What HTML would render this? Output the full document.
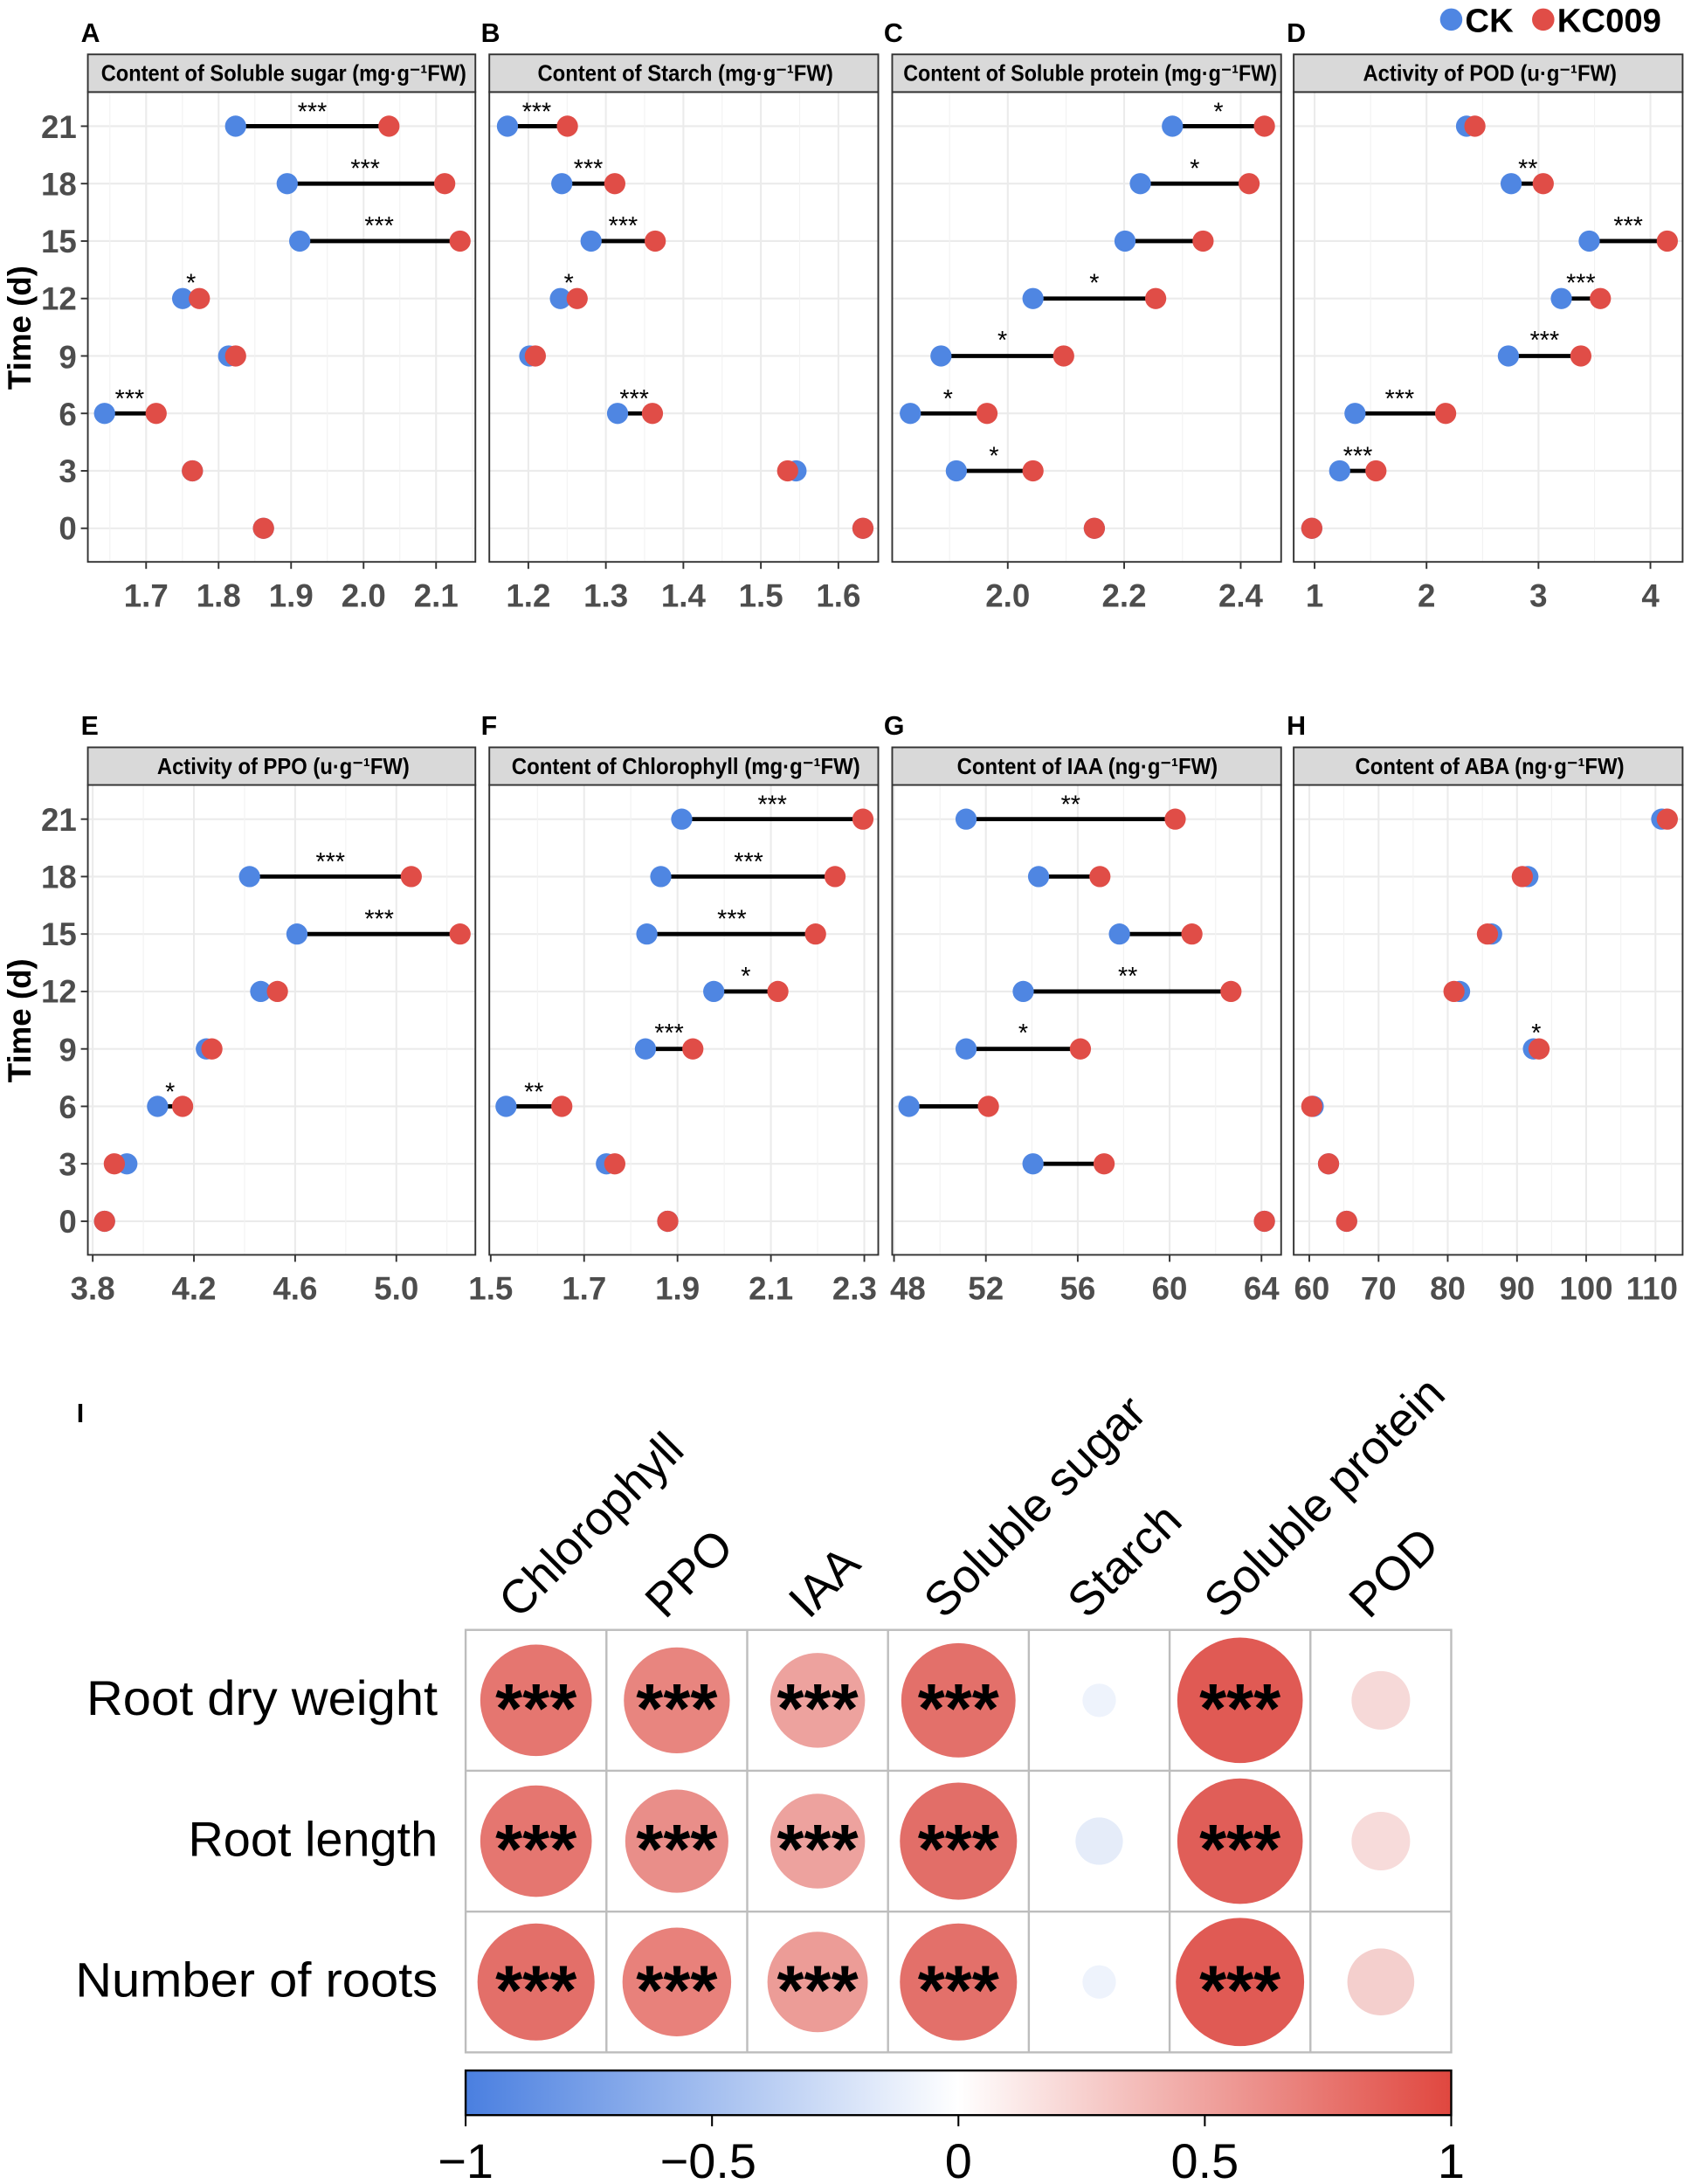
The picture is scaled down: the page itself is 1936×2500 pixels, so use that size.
<!DOCTYPE html>
<html><head><meta charset="utf-8"><style>
html,body{margin:0;padding:0;background:#fff;}
svg{display:block;}
text{font-family:"Liberation Sans",Arial,sans-serif;}
.tk{font-size:23px;font-weight:bold;fill:#4d4d4d;}
.st{font-size:16px;font-weight:bold;fill:#000;}
.sg{font-size:18px;fill:#000;}
.pl{font-size:19px;font-weight:bold;fill:#000;}
.gM{stroke:#ebebeb;stroke-width:1.3;}
.gm{stroke:#f2f2f2;stroke-width:0.7;}
.ck{fill:#4f86e2;}
.kc{fill:#e04d47;}
.seg{stroke:#000;stroke-width:3;}
.bx{fill:none;stroke:#333;stroke-width:1.2;}
.strip{fill:#d9d9d9;stroke:#333;stroke-width:1.2;}
.rl{font-size:35px;fill:#000;}
.cl{font-size:34px;fill:#000;}
.s3{font-size:50px;fill:#000;font-weight:bold;}
</style></head><body>
<svg width="1936" height="2500" viewBox="0 0 1213 1566.4" xmlns="http://www.w3.org/2000/svg">
<defs>
<linearGradient id="cb" x1="0" x2="1" y1="0" y2="0">
<stop offset="0" stop-color="#4a7fe0"/><stop offset="0.5" stop-color="#ffffff"/><stop offset="1" stop-color="#e0473f"/>
</linearGradient>
</defs>

<circle cx="1041" cy="14" r="8" class="ck"/><text x="1051" y="23" style="font-size:24px;font-weight:bold">CK</text>
<circle cx="1107" cy="14" r="8" class="kc"/><text x="1117" y="23" style="font-size:24px;font-weight:bold">KC009</text>

<text x="58" y="30" class="pl">A</text><text x="345" y="30" class="pl">B</text><text x="634" y="30" class="pl">C</text><text x="923" y="30" class="pl">D</text>
<text x="58" y="527" class="pl">E</text><text x="345" y="527" class="pl">F</text><text x="634" y="527" class="pl">G</text><text x="923" y="527" class="pl">H</text>
<text x="55" y="1020" class="pl">I</text>

<text transform="translate(22,235) rotate(-90)" text-anchor="middle" style="font-size:23px;font-weight:bold">Time (d)</text>
<text transform="translate(22,732) rotate(-90)" text-anchor="middle" style="font-size:23px;font-weight:bold">Time (d)</text>

<g>
<g class="gM">
<line x1="63" x2="341" y1="90.5" y2="90.5"/><line x1="63" x2="341" y1="131.7" y2="131.7"/><line x1="63" x2="341" y1="172.9" y2="172.9"/><line x1="63" x2="341" y1="214.1" y2="214.1"/><line x1="63" x2="341" y1="255.3" y2="255.3"/><line x1="63" x2="341" y1="296.5" y2="296.5"/><line x1="63" x2="341" y1="337.7" y2="337.7"/><line x1="63" x2="341" y1="378.9" y2="378.9"/>
<line x1="351" x2="630" y1="90.5" y2="90.5"/><line x1="351" x2="630" y1="131.7" y2="131.7"/><line x1="351" x2="630" y1="172.9" y2="172.9"/><line x1="351" x2="630" y1="214.1" y2="214.1"/><line x1="351" x2="630" y1="255.3" y2="255.3"/><line x1="351" x2="630" y1="296.5" y2="296.5"/><line x1="351" x2="630" y1="337.7" y2="337.7"/><line x1="351" x2="630" y1="378.9" y2="378.9"/>
<line x1="640" x2="919" y1="90.5" y2="90.5"/><line x1="640" x2="919" y1="131.7" y2="131.7"/><line x1="640" x2="919" y1="172.9" y2="172.9"/><line x1="640" x2="919" y1="214.1" y2="214.1"/><line x1="640" x2="919" y1="255.3" y2="255.3"/><line x1="640" x2="919" y1="296.5" y2="296.5"/><line x1="640" x2="919" y1="337.7" y2="337.7"/><line x1="640" x2="919" y1="378.9" y2="378.9"/>
<line x1="928" x2="1207" y1="90.5" y2="90.5"/><line x1="928" x2="1207" y1="131.7" y2="131.7"/><line x1="928" x2="1207" y1="172.9" y2="172.9"/><line x1="928" x2="1207" y1="214.1" y2="214.1"/><line x1="928" x2="1207" y1="255.3" y2="255.3"/><line x1="928" x2="1207" y1="296.5" y2="296.5"/><line x1="928" x2="1207" y1="337.7" y2="337.7"/><line x1="928" x2="1207" y1="378.9" y2="378.9"/>
</g>
<g class="gm">
<line x1="78.8" x2="78.8" y1="66" y2="403"/><line x1="130.8" x2="130.8" y1="66" y2="403"/><line x1="182.8" x2="182.8" y1="66" y2="403"/><line x1="234.8" x2="234.8" y1="66" y2="403"/><line x1="286.8" x2="286.8" y1="66" y2="403"/><line x1="338.8" x2="338.8" y1="66" y2="403"/>
<line x1="406.8" x2="406.8" y1="66" y2="403"/><line x1="462.4" x2="462.4" y1="66" y2="403"/><line x1="518" x2="518" y1="66" y2="403"/><line x1="573.6" x2="573.6" y1="66" y2="403"/>
<line x1="681.2" x2="681.2" y1="66" y2="403"/><line x1="764.7" x2="764.7" y1="66" y2="403"/><line x1="848.2" x2="848.2" y1="66" y2="403"/>
<line x1="983.2" x2="983.2" y1="66" y2="403"/><line x1="1063.5" x2="1063.5" y1="66" y2="403"/><line x1="1143.8" x2="1143.8" y1="66" y2="403"/>
</g>
<g class="gM">
<line x1="104.8" x2="104.8" y1="66" y2="403"/><line x1="156.8" x2="156.8" y1="66" y2="403"/><line x1="208.8" x2="208.8" y1="66" y2="403"/><line x1="260.8" x2="260.8" y1="66" y2="403"/><line x1="312.8" x2="312.8" y1="66" y2="403"/>
<line x1="379" x2="379" y1="66" y2="403"/><line x1="434.6" x2="434.6" y1="66" y2="403"/><line x1="490.2" x2="490.2" y1="66" y2="403"/><line x1="545.8" x2="545.8" y1="66" y2="403"/><line x1="601.4" x2="601.4" y1="66" y2="403"/>
<line x1="722.9" x2="722.9" y1="66" y2="403"/><line x1="806.4" x2="806.4" y1="66" y2="403"/><line x1="890" x2="890" y1="66" y2="403"/>
<line x1="943" x2="943" y1="66" y2="403"/><line x1="1023.3" x2="1023.3" y1="66" y2="403"/><line x1="1103.6" x2="1103.6" y1="66" y2="403"/><line x1="1183.9" x2="1183.9" y1="66" y2="403"/>
</g>
<rect x="63" y="66" width="278" height="337" class="bx"/><rect x="63" y="39" width="278" height="27" class="strip"/>
<rect x="351" y="66" width="279" height="337" class="bx"/><rect x="351" y="39" width="279" height="27" class="strip"/>
<rect x="640" y="66" width="279" height="337" class="bx"/><rect x="640" y="39" width="279" height="27" class="strip"/>
<rect x="928" y="66" width="279" height="337" class="bx"/><rect x="928" y="39" width="279" height="27" class="strip"/>
<text x="203.5" y="58" text-anchor="middle" class="st" textLength="262" lengthAdjust="spacingAndGlyphs">Content of Soluble sugar (mg·g⁻¹FW)</text>
<text x="491.6" y="58" text-anchor="middle" class="st" textLength="212" lengthAdjust="spacingAndGlyphs">Content of Starch (mg·g⁻¹FW)</text>
<text x="782" y="58" text-anchor="middle" class="st" textLength="268" lengthAdjust="spacingAndGlyphs">Content of Soluble protein (mg·g⁻¹FW)</text>
<text x="1068.7" y="58" text-anchor="middle" class="st" textLength="182" lengthAdjust="spacingAndGlyphs">Activity of POD (u·g⁻¹FW)</text>
<g stroke="#333" stroke-width="1.2">
<line x1="58" x2="63" y1="90.5" y2="90.5"/><line x1="58" x2="63" y1="131.7" y2="131.7"/><line x1="58" x2="63" y1="172.9" y2="172.9"/><line x1="58" x2="63" y1="214.1" y2="214.1"/><line x1="58" x2="63" y1="255.3" y2="255.3"/><line x1="58" x2="63" y1="296.5" y2="296.5"/><line x1="58" x2="63" y1="337.7" y2="337.7"/><line x1="58" x2="63" y1="378.9" y2="378.9"/>
<line x1="104.8" x2="104.8" y1="403" y2="408"/><line x1="156.8" x2="156.8" y1="403" y2="408"/><line x1="208.8" x2="208.8" y1="403" y2="408"/><line x1="260.8" x2="260.8" y1="403" y2="408"/><line x1="312.8" x2="312.8" y1="403" y2="408"/>
<line x1="379" x2="379" y1="403" y2="408"/><line x1="434.6" x2="434.6" y1="403" y2="408"/><line x1="490.2" x2="490.2" y1="403" y2="408"/><line x1="545.8" x2="545.8" y1="403" y2="408"/><line x1="601.4" x2="601.4" y1="403" y2="408"/>
<line x1="722.9" x2="722.9" y1="403" y2="408"/><line x1="806.4" x2="806.4" y1="403" y2="408"/><line x1="890" x2="890" y1="403" y2="408"/>
<line x1="943" x2="943" y1="403" y2="408"/><line x1="1023.3" x2="1023.3" y1="403" y2="408"/><line x1="1103.6" x2="1103.6" y1="403" y2="408"/><line x1="1183.9" x2="1183.9" y1="403" y2="408"/>
</g>
<g class="tk" text-anchor="end">
<text x="55" y="99">21</text><text x="55" y="140">18</text><text x="55" y="181">15</text><text x="55" y="222">12</text><text x="55" y="264">9</text><text x="55" y="305">6</text><text x="55" y="346">3</text><text x="55" y="387">0</text>
</g>
<g class="tk" text-anchor="middle">
<text x="104.8" y="435">1.7</text><text x="156.8" y="435">1.8</text><text x="208.8" y="435">1.9</text><text x="260.8" y="435">2.0</text><text x="312.8" y="435">2.1</text>
<text x="379" y="435">1.2</text><text x="434.6" y="435">1.3</text><text x="490.2" y="435">1.4</text><text x="545.8" y="435">1.5</text><text x="601.4" y="435">1.6</text>
<text x="722.9" y="435">2.0</text><text x="806.4" y="435">2.2</text><text x="890" y="435">2.4</text>
<text x="943" y="435">1</text><text x="1023.3" y="435">2</text><text x="1103.6" y="435">3</text><text x="1183.9" y="435">4</text>
</g>
<g class="seg">
<line x1="169" x2="279" y1="90.5" y2="90.5"/><line x1="206" x2="319" y1="131.7" y2="131.7"/><line x1="215" x2="330" y1="172.9" y2="172.9"/><line x1="75" x2="112" y1="296.5" y2="296.5"/>
<line x1="364" x2="407" y1="90.5" y2="90.5"/><line x1="403" x2="441" y1="131.7" y2="131.7"/><line x1="424" x2="470" y1="172.9" y2="172.9"/><line x1="443" x2="468" y1="296.5" y2="296.5"/>
<line x1="841" x2="907" y1="90.5" y2="90.5"/><line x1="818" x2="896" y1="131.7" y2="131.7"/><line x1="807" x2="863" y1="172.9" y2="172.9"/><line x1="741" x2="829" y1="214.1" y2="214.1"/><line x1="675" x2="763" y1="255.3" y2="255.3"/><line x1="653" x2="708" y1="296.5" y2="296.5"/><line x1="686" x2="741" y1="337.7" y2="337.7"/>
<line x1="1084" x2="1107" y1="131.7" y2="131.7"/><line x1="1140" x2="1196" y1="172.9" y2="172.9"/><line x1="1120" x2="1148" y1="214.1" y2="214.1"/><line x1="1082" x2="1134" y1="255.3" y2="255.3"/><line x1="972" x2="1037" y1="296.5" y2="296.5"/><line x1="961" x2="987" y1="337.7" y2="337.7"/>
</g>
<g class="ck">
<circle cx="169" cy="90.5" r="7.6"/><circle cx="206" cy="131.7" r="7.6"/><circle cx="215" cy="172.9" r="7.6"/><circle cx="131" cy="214.1" r="7.6"/><circle cx="164" cy="255.3" r="7.6"/><circle cx="75" cy="296.5" r="7.6"/><circle cx="138" cy="337.7" r="7.6"/><circle cx="189" cy="378.9" r="7.6"/>
<circle cx="364" cy="90.5" r="7.6"/><circle cx="403" cy="131.7" r="7.6"/><circle cx="424" cy="172.9" r="7.6"/><circle cx="402" cy="214.1" r="7.6"/><circle cx="380" cy="255.3" r="7.6"/><circle cx="443" cy="296.5" r="7.6"/><circle cx="571" cy="337.7" r="7.6"/><circle cx="619" cy="378.9" r="7.6"/>
<circle cx="841" cy="90.5" r="7.6"/><circle cx="818" cy="131.7" r="7.6"/><circle cx="807" cy="172.9" r="7.6"/><circle cx="741" cy="214.1" r="7.6"/><circle cx="675" cy="255.3" r="7.6"/><circle cx="653" cy="296.5" r="7.6"/><circle cx="686" cy="337.7" r="7.6"/><circle cx="785" cy="378.9" r="7.6"/>
<circle cx="1052" cy="90.5" r="7.6"/><circle cx="1084" cy="131.7" r="7.6"/><circle cx="1140" cy="172.9" r="7.6"/><circle cx="1120" cy="214.1" r="7.6"/><circle cx="1082" cy="255.3" r="7.6"/><circle cx="972" cy="296.5" r="7.6"/><circle cx="961" cy="337.7" r="7.6"/><circle cx="941" cy="378.9" r="7.6"/>
</g>
<g class="kc">
<circle cx="279" cy="90.5" r="7.6"/><circle cx="319" cy="131.7" r="7.6"/><circle cx="330" cy="172.9" r="7.6"/><circle cx="143" cy="214.1" r="7.6"/><circle cx="169" cy="255.3" r="7.6"/><circle cx="112" cy="296.5" r="7.6"/><circle cx="138" cy="337.7" r="7.6"/><circle cx="189" cy="378.9" r="7.6"/>
<circle cx="407" cy="90.5" r="7.6"/><circle cx="441" cy="131.7" r="7.6"/><circle cx="470" cy="172.9" r="7.6"/><circle cx="414" cy="214.1" r="7.6"/><circle cx="384" cy="255.3" r="7.6"/><circle cx="468" cy="296.5" r="7.6"/><circle cx="565" cy="337.7" r="7.6"/><circle cx="619" cy="378.9" r="7.6"/>
<circle cx="907" cy="90.5" r="7.6"/><circle cx="896" cy="131.7" r="7.6"/><circle cx="863" cy="172.9" r="7.6"/><circle cx="829" cy="214.1" r="7.6"/><circle cx="763" cy="255.3" r="7.6"/><circle cx="708" cy="296.5" r="7.6"/><circle cx="741" cy="337.7" r="7.6"/><circle cx="785" cy="378.9" r="7.6"/>
<circle cx="1058" cy="90.5" r="7.6"/><circle cx="1107" cy="131.7" r="7.6"/><circle cx="1196" cy="172.9" r="7.6"/><circle cx="1148" cy="214.1" r="7.6"/><circle cx="1134" cy="255.3" r="7.6"/><circle cx="1037" cy="296.5" r="7.6"/><circle cx="987" cy="337.7" r="7.6"/><circle cx="941" cy="378.9" r="7.6"/>
</g>
<g class="sg" text-anchor="middle">
<text x="224" y="86">***</text><text x="262" y="127">***</text><text x="272" y="168">***</text><text x="137" y="209">*</text><text x="93" y="292">***</text>
<text x="385" y="86">***</text><text x="422" y="127">***</text><text x="447" y="168">***</text><text x="408" y="209">*</text><text x="455" y="292">***</text>
<text x="874" y="86">*</text><text x="857" y="127">*</text><text x="785" y="209">*</text><text x="719" y="250">*</text><text x="680" y="292">*</text><text x="713" y="333">*</text>
<text x="1096" y="127">**</text><text x="1168" y="168">***</text><text x="1134" y="209">***</text><text x="1108" y="250">***</text><text x="1004" y="292">***</text><text x="974" y="333">***</text>
</g>
</g>

<g transform="translate(0,497)">
<g class="gM">
<line x1="63" x2="341" y1="90.5" y2="90.5"/><line x1="63" x2="341" y1="131.7" y2="131.7"/><line x1="63" x2="341" y1="172.9" y2="172.9"/><line x1="63" x2="341" y1="214.1" y2="214.1"/><line x1="63" x2="341" y1="255.3" y2="255.3"/><line x1="63" x2="341" y1="296.5" y2="296.5"/><line x1="63" x2="341" y1="337.7" y2="337.7"/><line x1="63" x2="341" y1="378.9" y2="378.9"/>
<line x1="351" x2="630" y1="90.5" y2="90.5"/><line x1="351" x2="630" y1="131.7" y2="131.7"/><line x1="351" x2="630" y1="172.9" y2="172.9"/><line x1="351" x2="630" y1="214.1" y2="214.1"/><line x1="351" x2="630" y1="255.3" y2="255.3"/><line x1="351" x2="630" y1="296.5" y2="296.5"/><line x1="351" x2="630" y1="337.7" y2="337.7"/><line x1="351" x2="630" y1="378.9" y2="378.9"/>
<line x1="640" x2="919" y1="90.5" y2="90.5"/><line x1="640" x2="919" y1="131.7" y2="131.7"/><line x1="640" x2="919" y1="172.9" y2="172.9"/><line x1="640" x2="919" y1="214.1" y2="214.1"/><line x1="640" x2="919" y1="255.3" y2="255.3"/><line x1="640" x2="919" y1="296.5" y2="296.5"/><line x1="640" x2="919" y1="337.7" y2="337.7"/><line x1="640" x2="919" y1="378.9" y2="378.9"/>
<line x1="928" x2="1207" y1="90.5" y2="90.5"/><line x1="928" x2="1207" y1="131.7" y2="131.7"/><line x1="928" x2="1207" y1="172.9" y2="172.9"/><line x1="928" x2="1207" y1="214.1" y2="214.1"/><line x1="928" x2="1207" y1="255.3" y2="255.3"/><line x1="928" x2="1207" y1="296.5" y2="296.5"/><line x1="928" x2="1207" y1="337.7" y2="337.7"/><line x1="928" x2="1207" y1="378.9" y2="378.9"/>
</g>
<g class="gm">
<line x1="102.8" x2="102.8" y1="66" y2="403"/><line x1="175.4" x2="175.4" y1="66" y2="403"/><line x1="248" x2="248" y1="66" y2="403"/><line x1="320.6" x2="320.6" y1="66" y2="403"/>
<line x1="385.5" x2="385.5" y1="66" y2="403"/><line x1="452.5" x2="452.5" y1="66" y2="403"/><line x1="519.5" x2="519.5" y1="66" y2="403"/><line x1="586.5" x2="586.5" y1="66" y2="403"/>
<line x1="674.3" x2="674.3" y1="66" y2="403"/><line x1="740.2" x2="740.2" y1="66" y2="403"/><line x1="806" x2="806" y1="66" y2="403"/><line x1="872" x2="872" y1="66" y2="403"/>
<line x1="964" x2="964" y1="66" y2="403"/><line x1="1013.7" x2="1013.7" y1="66" y2="403"/><line x1="1063.4" x2="1063.4" y1="66" y2="403"/><line x1="1113" x2="1113" y1="66" y2="403"/><line x1="1162.7" x2="1162.7" y1="66" y2="403"/>
</g>
<g class="gM">
<line x1="66.5" x2="66.5" y1="66" y2="403"/><line x1="139.1" x2="139.1" y1="66" y2="403"/><line x1="211.7" x2="211.7" y1="66" y2="403"/><line x1="284.3" x2="284.3" y1="66" y2="403"/>
<line x1="419" x2="419" y1="66" y2="403"/><line x1="486" x2="486" y1="66" y2="403"/><line x1="553" x2="553" y1="66" y2="403"/><line x1="620" x2="620" y1="66" y2="403"/>
<line x1="641.3" x2="641.3" y1="66" y2="403"/><line x1="707.2" x2="707.2" y1="66" y2="403"/><line x1="773.1" x2="773.1" y1="66" y2="403"/><line x1="839" x2="839" y1="66" y2="403"/><line x1="904.9" x2="904.9" y1="66" y2="403"/>
<line x1="939.2" x2="939.2" y1="66" y2="403"/><line x1="988.9" x2="988.9" y1="66" y2="403"/><line x1="1038.5" x2="1038.5" y1="66" y2="403"/><line x1="1088.2" x2="1088.2" y1="66" y2="403"/><line x1="1137.8" x2="1137.8" y1="66" y2="403"/><line x1="1187.5" x2="1187.5" y1="66" y2="403"/>
</g>
<rect x="63" y="66" width="278" height="337" class="bx"/><rect x="63" y="39" width="278" height="27" class="strip"/>
<rect x="351" y="66" width="279" height="337" class="bx"/><rect x="351" y="39" width="279" height="27" class="strip"/>
<rect x="640" y="66" width="279" height="337" class="bx"/><rect x="640" y="39" width="279" height="27" class="strip"/>
<rect x="928" y="66" width="279" height="337" class="bx"/><rect x="928" y="39" width="279" height="27" class="strip"/>
<text x="203.2" y="58" text-anchor="middle" class="st" textLength="181" lengthAdjust="spacingAndGlyphs">Activity of PPO (u·g⁻¹FW)</text>
<text x="492" y="58" text-anchor="middle" class="st" textLength="250" lengthAdjust="spacingAndGlyphs">Content of Chlorophyll (mg·g⁻¹FW)</text>
<text x="780" y="58" text-anchor="middle" class="st" textLength="187" lengthAdjust="spacingAndGlyphs">Content of IAA (ng·g⁻¹FW)</text>
<text x="1068.6" y="58" text-anchor="middle" class="st" textLength="193" lengthAdjust="spacingAndGlyphs">Content of ABA (ng·g⁻¹FW)</text>
<g stroke="#333" stroke-width="1.2">
<line x1="58" x2="63" y1="90.5" y2="90.5"/><line x1="58" x2="63" y1="131.7" y2="131.7"/><line x1="58" x2="63" y1="172.9" y2="172.9"/><line x1="58" x2="63" y1="214.1" y2="214.1"/><line x1="58" x2="63" y1="255.3" y2="255.3"/><line x1="58" x2="63" y1="296.5" y2="296.5"/><line x1="58" x2="63" y1="337.7" y2="337.7"/><line x1="58" x2="63" y1="378.9" y2="378.9"/>
<line x1="66.5" x2="66.5" y1="403" y2="408"/><line x1="139.1" x2="139.1" y1="403" y2="408"/><line x1="211.7" x2="211.7" y1="403" y2="408"/><line x1="284.3" x2="284.3" y1="403" y2="408"/>
<line x1="352" x2="352" y1="403" y2="408"/><line x1="419" x2="419" y1="403" y2="408"/><line x1="486" x2="486" y1="403" y2="408"/><line x1="553" x2="553" y1="403" y2="408"/><line x1="620" x2="620" y1="403" y2="408"/>
<line x1="641.3" x2="641.3" y1="403" y2="408"/><line x1="707.2" x2="707.2" y1="403" y2="408"/><line x1="773.1" x2="773.1" y1="403" y2="408"/><line x1="839" x2="839" y1="403" y2="408"/><line x1="904.9" x2="904.9" y1="403" y2="408"/>
<line x1="939.2" x2="939.2" y1="403" y2="408"/><line x1="988.9" x2="988.9" y1="403" y2="408"/><line x1="1038.5" x2="1038.5" y1="403" y2="408"/><line x1="1088.2" x2="1088.2" y1="403" y2="408"/><line x1="1137.8" x2="1137.8" y1="403" y2="408"/><line x1="1187.5" x2="1187.5" y1="403" y2="408"/>
</g>
<g class="tk" text-anchor="end">
<text x="55" y="99">21</text><text x="55" y="140">18</text><text x="55" y="181">15</text><text x="55" y="222">12</text><text x="55" y="264">9</text><text x="55" y="305">6</text><text x="55" y="346">3</text><text x="55" y="387">0</text>
</g>
<g class="tk" text-anchor="middle">
<text x="66.5" y="435">3.8</text><text x="139.1" y="435">4.2</text><text x="211.7" y="435">4.6</text><text x="284.3" y="435">5.0</text>
<text x="352" y="435">1.5</text><text x="419" y="435">1.7</text><text x="486" y="435">1.9</text><text x="553" y="435">2.1</text><text x="613" y="435">2.3</text>
<text x="664" y="435" text-anchor="end">48</text><text x="707.2" y="435">52</text><text x="773.1" y="435">56</text><text x="839" y="435">60</text><text x="904.9" y="435">64</text>
<text x="941" y="435">60</text><text x="988.9" y="435">70</text><text x="1038.5" y="435">80</text><text x="1088.2" y="435">90</text><text x="1137.8" y="435">100</text><text x="1185" y="435">110</text>
</g>
<g class="seg">
<line x1="179" x2="295" y1="131.7" y2="131.7"/><line x1="213" x2="330" y1="172.9" y2="172.9"/><line x1="113" x2="131" y1="296.5" y2="296.5"/>
<line x1="489" x2="619" y1="90.5" y2="90.5"/><line x1="474" x2="599" y1="131.7" y2="131.7"/><line x1="464" x2="585" y1="172.9" y2="172.9"/><line x1="512" x2="558" y1="214.1" y2="214.1"/><line x1="463" x2="497" y1="255.3" y2="255.3"/><line x1="363" x2="403" y1="296.5" y2="296.5"/>
<line x1="693" x2="843" y1="90.5" y2="90.5"/><line x1="745" x2="789" y1="131.7" y2="131.7"/><line x1="803" x2="855" y1="172.9" y2="172.9"/><line x1="734" x2="883" y1="214.1" y2="214.1"/><line x1="693" x2="775" y1="255.3" y2="255.3"/><line x1="652" x2="709" y1="296.5" y2="296.5"/><line x1="741" x2="792" y1="337.7" y2="337.7"/>
</g>
<g class="ck">
<circle cx="179" cy="131.7" r="7.6"/><circle cx="213" cy="172.9" r="7.6"/><circle cx="187" cy="214.1" r="7.6"/><circle cx="148" cy="255.3" r="7.6"/><circle cx="113" cy="296.5" r="7.6"/><circle cx="91" cy="337.7" r="7.6"/><circle cx="75" cy="378.9" r="7.6"/>
<circle cx="489" cy="90.5" r="7.6"/><circle cx="474" cy="131.7" r="7.6"/><circle cx="464" cy="172.9" r="7.6"/><circle cx="512" cy="214.1" r="7.6"/><circle cx="463" cy="255.3" r="7.6"/><circle cx="363" cy="296.5" r="7.6"/><circle cx="435" cy="337.7" r="7.6"/><circle cx="479" cy="378.9" r="7.6"/>
<circle cx="693" cy="90.5" r="7.6"/><circle cx="745" cy="131.7" r="7.6"/><circle cx="803" cy="172.9" r="7.6"/><circle cx="734" cy="214.1" r="7.6"/><circle cx="693" cy="255.3" r="7.6"/><circle cx="652" cy="296.5" r="7.6"/><circle cx="741" cy="337.7" r="7.6"/><circle cx="907" cy="378.9" r="7.6"/>
<circle cx="1192" cy="90.5" r="7.6"/><circle cx="1096" cy="131.7" r="7.6"/><circle cx="1070" cy="172.9" r="7.6"/><circle cx="1047" cy="214.1" r="7.6"/><circle cx="1100" cy="255.3" r="7.6"/><circle cx="942" cy="296.5" r="7.6"/><circle cx="953" cy="337.7" r="7.6"/><circle cx="966" cy="378.9" r="7.6"/>
</g>
<g class="kc">
<circle cx="295" cy="131.7" r="7.6"/><circle cx="330" cy="172.9" r="7.6"/><circle cx="199" cy="214.1" r="7.6"/><circle cx="152" cy="255.3" r="7.6"/><circle cx="131" cy="296.5" r="7.6"/><circle cx="82" cy="337.7" r="7.6"/><circle cx="75" cy="378.9" r="7.6"/>
<circle cx="619" cy="90.5" r="7.6"/><circle cx="599" cy="131.7" r="7.6"/><circle cx="585" cy="172.9" r="7.6"/><circle cx="558" cy="214.1" r="7.6"/><circle cx="497" cy="255.3" r="7.6"/><circle cx="403" cy="296.5" r="7.6"/><circle cx="441" cy="337.7" r="7.6"/><circle cx="479" cy="378.9" r="7.6"/>
<circle cx="843" cy="90.5" r="7.6"/><circle cx="789" cy="131.7" r="7.6"/><circle cx="855" cy="172.9" r="7.6"/><circle cx="883" cy="214.1" r="7.6"/><circle cx="775" cy="255.3" r="7.6"/><circle cx="709" cy="296.5" r="7.6"/><circle cx="792" cy="337.7" r="7.6"/><circle cx="907" cy="378.9" r="7.6"/>
<circle cx="1196" cy="90.5" r="7.6"/><circle cx="1092" cy="131.7" r="7.6"/><circle cx="1067" cy="172.9" r="7.6"/><circle cx="1043" cy="214.1" r="7.6"/><circle cx="1104" cy="255.3" r="7.6"/><circle cx="941" cy="296.5" r="7.6"/><circle cx="953" cy="337.7" r="7.6"/><circle cx="966" cy="378.9" r="7.6"/>
</g>
<g class="sg" text-anchor="middle">
<text x="237" y="127">***</text><text x="272" y="168">***</text><text x="122" y="292">*</text>
<text x="554" y="86">***</text><text x="537" y="127">***</text><text x="525" y="168">***</text><text x="535" y="209">*</text><text x="480" y="250">***</text><text x="383" y="292">**</text>
<text x="768" y="86">**</text><text x="809" y="209">**</text><text x="734" y="250">*</text>
<text x="1102" y="250">*</text>
</g>
</g>

<g>
<g class="cl">
<text transform="translate(372,1162) rotate(-45)">Chlorophyll</text>
<text transform="translate(477,1162) rotate(-45)">PPO</text>
<text transform="translate(580,1162) rotate(-45)">IAA</text>
<text transform="translate(677,1162) rotate(-45)">Soluble sugar</text>
<text transform="translate(780,1162) rotate(-45)">Starch</text>
<text transform="translate(878,1162) rotate(-45)">Soluble protein</text>
<text transform="translate(982,1162) rotate(-45)">POD</text>
</g>
<g class="rl" text-anchor="end">
<text x="314" y="1230" textLength="252" lengthAdjust="spacingAndGlyphs">Root dry weight</text>
<text x="314" y="1331">Root length</text>
<text x="314" y="1432" textLength="260" lengthAdjust="spacingAndGlyphs">Number of roots</text>
</g>
<g stroke="#bdbdbd" stroke-width="1.5" fill="none">
<rect x="334" y="1169" width="707" height="303"/>
<line x1="435" x2="435" y1="1169" y2="1472"/><line x1="536" x2="536" y1="1169" y2="1472"/><line x1="637" x2="637" y1="1169" y2="1472"/><line x1="738" x2="738" y1="1169" y2="1472"/><line x1="839" x2="839" y1="1169" y2="1472"/><line x1="940" x2="940" y1="1169" y2="1472"/>
<line x1="334" x2="1041" y1="1270" y2="1270"/><line x1="334" x2="1041" y1="1371" y2="1371"/>
</g>
<g>
<circle cx="384.5" cy="1219.5" r="40" fill="#e57670"/><circle cx="485.5" cy="1219.5" r="38" fill="#e8857f"/><circle cx="586.5" cy="1219.5" r="34" fill="#eda29e"/><circle cx="687.5" cy="1219.5" r="41" fill="#e3706a"/><circle cx="788.5" cy="1219.5" r="12" fill="#eef3fc"/><circle cx="889.5" cy="1219.5" r="45" fill="#e05a54"/><circle cx="990.5" cy="1219.5" r="21" fill="#f6d9d8"/>
<circle cx="384.5" cy="1320.5" r="40" fill="#e57670"/><circle cx="485.5" cy="1320.5" r="37" fill="#e98e89"/><circle cx="586.5" cy="1320.5" r="34" fill="#eda29e"/><circle cx="687.5" cy="1320.5" r="42" fill="#e26e68"/><circle cx="788.5" cy="1320.5" r="17" fill="#e5ecf9"/><circle cx="889.5" cy="1320.5" r="45" fill="#e05e58"/><circle cx="990.5" cy="1320.5" r="21" fill="#f7dbda"/>
<circle cx="384.5" cy="1421.5" r="42" fill="#e36f69"/><circle cx="485.5" cy="1421.5" r="39" fill="#e8817b"/><circle cx="586.5" cy="1421.5" r="36" fill="#ec9c97"/><circle cx="687.5" cy="1421.5" r="42" fill="#e3706a"/><circle cx="788.5" cy="1421.5" r="12" fill="#eef3fc"/><circle cx="889.5" cy="1421.5" r="46" fill="#e05a54"/><circle cx="990.5" cy="1421.5" r="24" fill="#f4cfcd"/>
</g>
<g class="s3" text-anchor="middle">
<text x="384.5" y="1242.5">***</text><text x="485.5" y="1242.5">***</text><text x="586.5" y="1242.5">***</text><text x="687.5" y="1242.5">***</text><text x="889.5" y="1242.5">***</text>
<text x="384.5" y="1343.5">***</text><text x="485.5" y="1343.5">***</text><text x="586.5" y="1343.5">***</text><text x="687.5" y="1343.5">***</text><text x="889.5" y="1343.5">***</text>
<text x="384.5" y="1444.5">***</text><text x="485.5" y="1444.5">***</text><text x="586.5" y="1444.5">***</text><text x="687.5" y="1444.5">***</text><text x="889.5" y="1444.5">***</text>
</g>
<rect x="334" y="1485" width="707" height="32" fill="url(#cb)" stroke="#000" stroke-width="1.5"/>
<g stroke="#000" stroke-width="1.3">
<line x1="334" x2="334" y1="1517" y2="1525"/><line x1="510.75" x2="510.75" y1="1517" y2="1525"/><line x1="687.5" x2="687.5" y1="1517" y2="1525"/><line x1="864.25" x2="864.25" y1="1517" y2="1525"/><line x1="1041" x2="1041" y1="1517" y2="1525"/>
</g>
<g text-anchor="middle" style="font-size:35px">
<text x="334" y="1562">−1</text><text x="508" y="1562">−0.5</text><text x="687.5" y="1562">0</text><text x="864.25" y="1562">0.5</text><text x="1041" y="1562">1</text>
</g>
</g>
</svg>
</body></html>
